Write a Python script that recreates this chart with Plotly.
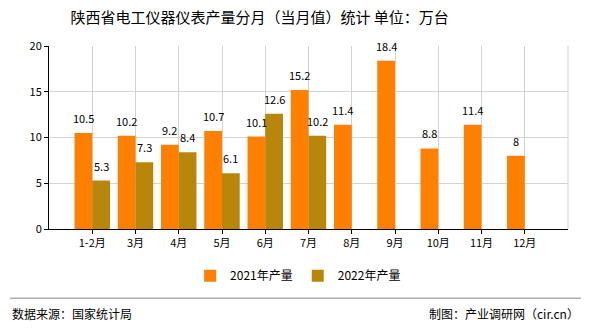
import plotly.graph_objects as go

categories = ["1-2月", "3月", "4月", "5月", "6月", "7月", "8月", "9月", "10月", "11月", "12月"]
values_2021 = [10.5, 10.2, 9.2, 10.7, 10.1, 15.2, 11.4, 18.4, 8.8, 11.4, 8]
values_2022 = [5.3, 7.3, 8.4, 6.1, 12.6, 10.2]
y_ticks = [0, 5, 10, 15, 20]

pos = list(range(1, len(categories) + 1))
font = "Noto Sans CJK SC"
bw = 0.41

fig = go.Figure()
fig.add_trace(go.Bar(
    x=pos, y=values_2021, name="2021年产量", marker_color="#FF8000",
    marker_line_width=0, width=bw, offset=-bw,
))
fig.add_trace(go.Bar(
    x=pos[:len(values_2022)], y=values_2022, name="2022年产量", marker_color="#B8860B",
    marker_line_width=0, width=bw, offset=0,
))

labels = []
for p, v in zip(pos, values_2021):
    labels.append(dict(x=p - bw / 2, y=v, text=f"{v:g}", xref="x", yref="y",
                       yanchor="bottom", yshift=5, showarrow=False,
                       font=dict(family=font, size=11, color="#000")))
for p, v in zip(pos, values_2022):
    labels.append(dict(x=p + bw / 2, y=v, text=f"{v:g}", xref="x", yref="y",
                       yanchor="bottom", yshift=5, showarrow=False,
                       font=dict(family=font, size=11, color="#000")))

fig.update_layout(
    width=590, height=330,
    margin=dict(l=49, r=22, t=46, b=101),
    paper_bgcolor="white", plot_bgcolor="white",
    barmode="overlay",
    font=dict(family=font, size=11, color="#000"),
    title=dict(text="陕西省电工仪器仪表产量分月（当月值）统计 单位：万台",
               x=0.44, xanchor="center", y=0.945, yanchor="middle",
               font=dict(family=font, size=15, color="#000")),
    showlegend=True,
    legend=dict(orientation="h", x=0.48, xanchor="center", y=-0.255, yanchor="middle",
                font=dict(family=font, size=12, color="#000"), itemwidth=30,
                traceorder="normal"),
    xaxis=dict(range=[0, 12], tickmode="array", tickvals=pos, ticktext=categories,
               showgrid=True, gridcolor="#D3D3D3", gridwidth=1,
               showline=True, linecolor="#000", linewidth=1,
               ticks="outside", ticklen=4, tickcolor="#000",
               tickfont=dict(family=font, size=11, color="#000"), fixedrange=True),
    yaxis=dict(range=[0, 20], tickmode="array", tickvals=y_ticks,
               showgrid=True, gridcolor="#D3D3D3", gridwidth=1,
               showline=True, linecolor="#000", linewidth=1,
               ticks="outside", ticklen=4, tickcolor="#000", zeroline=False,
               tickfont=dict(family=font, size=11, color="#000"), fixedrange=True),
    shapes=[
        dict(type="line", xref="paper", yref="paper", x0=1, x1=1, y0=0, y1=1,
             line=dict(color="#D3D3D3", width=1)),
        dict(type="line", xref="paper", yref="paper", x0=-0.075, x1=1.025, y0=-0.378, y1=-0.378,
             line=dict(color="#888", width=1)),
    ],
    annotations=labels + [
        dict(text="数据来源：国家统计局", xref="paper", yref="paper", x=-0.075, y=-0.46,
             xanchor="left", yanchor="middle", showarrow=False,
             font=dict(family=font, size=12, color="#000")),
        dict(text="制图：产业调研网（cir.cn）", xref="paper", yref="paper", x=1.025, y=-0.46,
             xanchor="right", yanchor="middle", showarrow=False,
             font=dict(family=font, size=12, color="#000")),
    ],
)

fig.write_html("out.html")
